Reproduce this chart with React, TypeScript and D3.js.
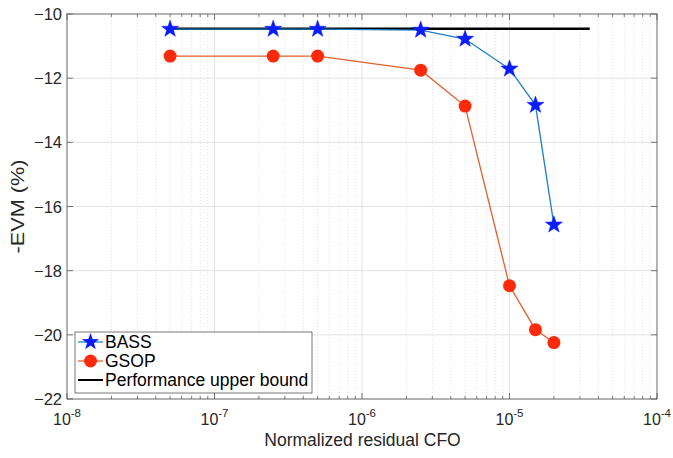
import React from "react";
import * as d3 from "d3";

const cfo = [5e-8, 2.5e-7, 5e-7, 2.5e-6, 5e-6, 1e-5, 1.5e-5, 2e-5];
const bass = [-10.47, -10.47, -10.47, -10.5, -10.78, -11.71, -12.84, -16.57];
const gsop = [-11.31, -11.31, -11.31, -11.75, -12.87, -18.47, -19.84, -20.24];
const boundX = [5e-8, 3.5e-5];
const boundY = [-10.46, -10.46];
const yTicks = [-22, -20, -18, -16, -14, -12, -10];
const xDecades = [-8, -7, -6, -5, -4];
const legendLabels = ["BASS", "GSOP", "Performance upper bound"];

const W = 673, H = 458;
const L = 67, R = 657, T = 14, B = 399;
const FONT = "'Liberation Sans', Arial, Helvetica, sans-serif";

function starPath(cx: number, cy: number, ro: number) {
  const ri = ro * 0.4;
  const pts: string[] = [];
  for (let i = 0; i < 10; i++) {
    const r = i % 2 === 0 ? ro : ri;
    const a = -Math.PI / 2 + (i * Math.PI) / 5;
    pts.push(`${cx + r * Math.cos(a)},${cy + r * Math.sin(a)}`);
  }
  return "M" + pts.join("L") + "Z";
}

const fmtY = (t: number) => (t < 0 ? "\u2212" + Math.abs(t) : String(t));

export default function App() {
  const x = d3.scaleLog().domain([1e-8, 1e-4]).range([L, R]);
  const y = d3.scaleLinear().domain([-22, -10]).range([B, T]);
  const minors: number[] = [];
  for (let d = -8; d < -4; d++) for (let m = 2; m <= 9; m++) minors.push(m * Math.pow(10, d));
  const line = d3.line<[number, number]>().x((d) => x(d[0])).y((d) => y(d[1]));
  const bassPts = cfo.map((c, i) => [c, bass[i]] as [number, number]);
  const gsopPts = cfo.map((c, i) => [c, gsop[i]] as [number, number]);
  const boundPts = boundX.map((c, i) => [c, boundY[i]] as [number, number]);
  const axisCol = "#262626";
  const lx = 75, ly = 332, lw = 237, lh = 61;
  return (
    <svg width={W} height={H} style={{ position: "absolute", left: 0, top: 0, background: "#fff" }} fontFamily={FONT}>
      <rect x={0} y={0} width={W} height={H} fill="#fff" />
      {minors.map((m, i) => (
        <line key={"mg" + i} x1={x(m)} x2={x(m)} y1={T} y2={B} stroke="#d8d8d8" strokeWidth={0.8} strokeDasharray="1,2" />
      ))}
      {xDecades.map((d) => (
        <line key={"xg" + d} x1={x(Math.pow(10, d))} x2={x(Math.pow(10, d))} y1={T} y2={B} stroke="#e3e3e3" strokeWidth={1} />
      ))}
      {yTicks.map((t) => (
        <line key={"yg" + t} x1={L} x2={R} y1={y(t)} y2={y(t)} stroke="#e3e3e3" strokeWidth={1} />
      ))}
      {minors.map((m, i) => (
        <g key={"mt" + i}>
          <line x1={x(m)} x2={x(m)} y1={B} y2={B - 3} stroke={axisCol} strokeWidth={0.6} />
          <line x1={x(m)} x2={x(m)} y1={T} y2={T + 3} stroke={axisCol} strokeWidth={0.6} />
        </g>
      ))}
      {xDecades.map((d) => (
        <g key={"xt" + d}>
          <line x1={x(Math.pow(10, d))} x2={x(Math.pow(10, d))} y1={B} y2={B - 6} stroke={axisCol} strokeWidth={0.6} />
          <line x1={x(Math.pow(10, d))} x2={x(Math.pow(10, d))} y1={T} y2={T + 6} stroke={axisCol} strokeWidth={0.6} />
          <text x={x(Math.pow(10, d))} y={425} textAnchor="middle" fontSize={16} fill={axisCol}>
            10
            <tspan dy={-8.5} fontSize={11.5}>{String(d)}</tspan>
          </text>
        </g>
      ))}
      {yTicks.map((t) => (
        <g key={"yt" + t}>
          <line x1={L} x2={L + 6} y1={y(t)} y2={y(t)} stroke={axisCol} strokeWidth={0.6} />
          <line x1={R} x2={R - 6} y1={y(t)} y2={y(t)} stroke={axisCol} strokeWidth={0.6} />
          <text x={62} y={y(t) + 6} textAnchor="end" fontSize={16.5} fill={axisCol}>{fmtY(t)}</text>
        </g>
      ))}
      <rect x={L} y={T} width={R - L} height={B - T} fill="none" stroke="#555" strokeWidth={0.8} />
      <path d={line(boundPts) || ""} fill="none" stroke="#000" strokeWidth={2.5} />
      <path d={line(bassPts) || ""} fill="none" stroke="#1f7fc8" strokeWidth={1.3} />
      <path d={line(gsopPts) || ""} fill="none" stroke="#e0602e" strokeWidth={1.3} />
      {bassPts.map((p, i) => (
        <path key={"bs" + i} d={starPath(x(p[0]), y(p[1]), 9)} fill="#0a1cff" stroke="#0a1cff" strokeWidth={0.5} />
      ))}
      {gsopPts.map((p, i) => (
        <circle key={"gc" + i} cx={x(p[0])} cy={y(p[1])} r={6.5} fill="#ff2a0a" />
      ))}
      <rect x={lx} y={ly} width={lw} height={lh} fill="#fff" stroke="#555" strokeWidth={0.8} />
      {legendLabels.map((lab, i) => {
        const cy = 342 + i * 19;
        return (
          <g key={"lg" + i}>
            <line x1={78} x2={103} y1={cy} y2={cy} stroke={i === 0 ? "#1f7fc8" : i === 1 ? "#e0602e" : "#000"} strokeWidth={i === 2 ? 2 : 1.3} />
            {i === 0 && <path d={starPath(90.5, cy, 9)} fill="#0a1cff" />}
            {i === 1 && <circle cx={90.5} cy={cy} r={6.5} fill="#ff2a0a" />}
            <text x={105} y={cy + 6} fontSize={17.5} fill="#000">{lab}</text>
          </g>
        );
      })}
      <text x={362.5} y={446} textAnchor="middle" fontSize={17.5} fill={axisCol}>Normalized residual CFO</text>
      <text transform={`translate(24,${(T + B) / 2}) rotate(-90)`} textAnchor="middle" fontSize={18} textLength={94} lengthAdjust="spacingAndGlyphs" fill={axisCol}>-EVM (%)</text>
    </svg>
  );
}
